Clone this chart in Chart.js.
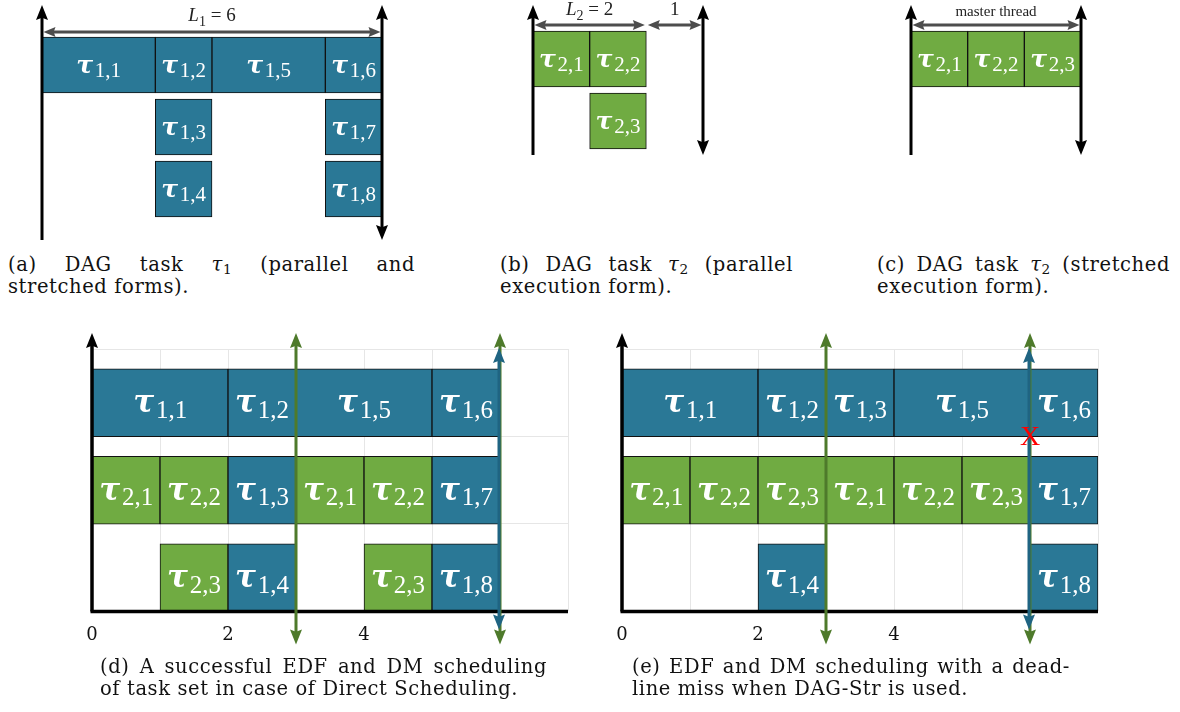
<!DOCTYPE html>
<html>
<head>
<meta charset="utf-8">
<script src="https://cdn.jsdelivr.net/npm/chart.js@4.4.0/dist/chart.umd.min.js"></script>
<style>
  body { margin: 0; width: 1180px; height: 712px; background: #fff; position: relative; overflow: hidden; font-family: "DejaVu Serif", serif; color: #111; }
  canvas { position: absolute; }
  .cap { position: absolute; font-size: 19.5px; letter-spacing: 0.6px; line-height: 22px; white-space: nowrap; }
  .cap .j { text-align: justify; text-align-last: justify; white-space: normal; }
  .cap sub { font-size: 70%; line-height: 0; vertical-align: -0.25em; }
</style>
</head>
<body>
<canvas id="cA" width="420" height="250" style="left:0;top:0"></canvas>
<canvas id="cB" width="250" height="170" style="left:490px;top:0"></canvas>
<canvas id="cC" width="230" height="170" style="left:880px;top:0"></canvas>
<canvas id="cD" width="520" height="340" style="left:70px;top:320px"></canvas>
<canvas id="cE" width="520" height="340" style="left:600px;top:320px"></canvas>

<div class="cap" style="left:8px;top:254px;width:407px">
  <div class="j">(a) DAG task <i>τ</i><sub>1</sub> (parallel and</div>
  <div>stretched forms).</div>
</div>
<div class="cap" style="left:500px;top:254px;width:293px">
  <div class="j">(b) DAG task <i>τ</i><sub>2</sub> (parallel</div>
  <div>execution form).</div>
</div>
<div class="cap" style="left:877px;top:254px;width:293px">
  <div class="j">(c) DAG task <i>τ</i><sub>2</sub> (stretched</div>
  <div>execution form).</div>
</div>
<div class="cap" style="left:100px;top:656px;width:447px">
  <div class="j">(d) A successful EDF and DM scheduling</div>
  <div>of task set in case of Direct Scheduling.</div>
</div>
<div class="cap" style="left:632px;top:656px;width:438px">
  <div class="j">(e) EDF and DM scheduling with a dead-</div>
  <div>line miss when DAG-Str is used.</div>
</div>

<script>
// (a) tau_1 in parallel form: subjob index, start, end, processor row (2 = top)
const aJobs  = ['1,1', '1,2', '1,5', '1,6', '1,3', '1,7', '1,4', '1,8'];
const aStart = [0, 2, 3, 5, 2, 5, 2, 5];
const aEnd   = [2, 3, 5, 6, 3, 6, 3, 6];
const aRow   = [2, 2, 2, 2, 1, 1, 0, 0];

// (b) tau_2 parallel form
const bJobs  = ['2,1', '2,2', '2,3'];
const bStart = [0, 1, 1];
const bEnd   = [1, 2, 2];
const bRow   = [1, 1, 0];

// (c) tau_2 stretched onto the master thread
const cJobs  = ['2,1', '2,2', '2,3'];
const cStart = [0, 1, 2];
const cEnd   = [1, 2, 3];
const cRow   = [1, 1, 1];

// (d) direct scheduling
const dJobs  = ['1,1', '1,2', '1,5', '1,6', '2,1', '2,2', '1,3', '2,1', '2,2', '1,7', '2,3', '1,4', '2,3', '1,8'];
const dStart = [0, 2, 3, 5, 0, 1, 2, 3, 4, 5, 1, 2, 4, 5];
const dEnd   = [2, 3, 5, 6, 1, 2, 3, 4, 5, 6, 2, 3, 5, 6];
const dRow   = [2, 2, 2, 2, 1, 1, 1, 1, 1, 1, 0, 0, 0, 0];

// (e) DAG-Str scheduling
const eJobs  = ['1,1', '1,2', '1,3', '1,5', '1,6', '2,1', '2,2', '2,3', '2,1', '2,2', '2,3', '1,7', '1,4', '1,8'];
const eStart = [0, 2, 3, 4, 6, 0, 1, 2, 3, 4, 5, 6, 2, 6];
const eEnd   = [2, 3, 4, 6, 7, 1, 2, 3, 4, 5, 6, 7, 3, 7];
const eRow   = [2, 2, 2, 2, 2, 1, 1, 1, 1, 1, 1, 1, 0, 0];

const tau1Deadlines = [6];
const tau2Deadlines = [3, 6];
const missTimes = [6];
const xTickLabels = [0, 2, 4];

// dimension arrows above the task drawings
const aDimFrom = [0], aDimTo = [6], aDimText = ['L_1 = 6'];
const bDimFrom = [0, 2], bDimTo = [2, 3], bDimText = ['L_2 = 2', '1'];
const cDimFrom = [0], cDimTo = [3], cDimText = ['master thread'];

const BLUE = '#2a7896', GREEN = '#70ab42';
const BLUE_DL = '#1f6482', GREEN_DL = '#4e7a2b';
const GRID = '#e6e6e6';

function head(ctx, x, y, dx, dy, len, half, color) {
  const bx = x - dx * len, by = y - dy * len;
  ctx.fillStyle = color;
  ctx.beginPath();
  ctx.moveTo(x, y);
  ctx.lineTo(bx - dy * half, by + dx * half);
  ctx.lineTo(x - dx * len * 0.85, y - dy * len * 0.85);
  ctx.lineTo(bx + dy * half, by - dx * half);
  ctx.closePath();
  ctx.fill();
}

// vertical line from y1 (top) to y2 (bottom), heads optional
function vArrow(ctx, x, y1, y2, w, color, up, down, len, half) {
  ctx.strokeStyle = color;
  ctx.lineWidth = w;
  ctx.beginPath();
  ctx.moveTo(x, up ? y1 + len * 0.8 : y1);
  ctx.lineTo(x, down ? y2 - len * 0.8 : y2);
  ctx.stroke();
  if (up) head(ctx, x, y1, 0, -1, len, half, color);
  if (down) head(ctx, x, y2, 0, 1, len, half, color);
}

function hArrow(ctx, x1, x2, y, w, color, len, half) {
  ctx.strokeStyle = color;
  ctx.lineWidth = w;
  ctx.beginPath();
  ctx.moveTo(x1 + len * 0.8, y);
  ctx.lineTo(x2 - len * 0.8, y);
  ctx.stroke();
  head(ctx, x1, y, -1, 0, len, half, color);
  head(ctx, x2, y, 1, 0, len, half, color);
}

// text like 'L_1 = 6': single letter before '_' italic, digit after it a subscript
function mathText(ctx, txt, cx, cy, size) {
  const parts = [];
  const re = /([A-Za-z])_(\d)/g;
  let last = 0, m;
  while ((m = re.exec(txt))) {
    if (m.index > last) parts.push({ t: txt.slice(last, m.index), f: `${size}px "Liberation Serif"`, dy: 0 });
    parts.push({ t: m[1], f: `italic ${size}px "Liberation Serif"`, dy: 0 });
    parts.push({ t: m[2], f: `${Math.round(size * 0.72)}px "Liberation Serif"`, dy: size * 0.22 });
    last = re.lastIndex;
  }
  if (last < txt.length) parts.push({ t: txt.slice(last), f: `${size}px "Liberation Serif"`, dy: 0 });
  let total = 0;
  parts.forEach(p => { ctx.font = p.f; p.w = ctx.measureText(p.t).width; total += p.w; });
  let x = cx - total / 2;
  ctx.fillStyle = '#222';
  ctx.textBaseline = 'alphabetic';
  ctx.textAlign = 'left';
  parts.forEach(p => { ctx.font = p.f; ctx.fillText(p.t, x, cy + size * 0.34 + p.dy); x += p.w; });
}

function tauLabel(ctx, sub, cx, cy, h) {
  const tf = `bold italic ${Math.round(h * 0.45)}px "DejaVu Serif"`;
  const sf = `${Math.round(h * 0.37)}px "Liberation Serif"`;
  ctx.font = tf; const wt = ctx.measureText('τ').width;
  ctx.font = sf; const ws = ctx.measureText(sub).width;
  const gap = h * 0.03;
  let x = cx - (wt + gap + ws) / 2;
  ctx.fillStyle = '#fff';
  ctx.textAlign = 'left';
  ctx.textBaseline = 'alphabetic';
  ctx.font = tf; ctx.fillText('τ', x, cy + h * 0.14);
  ctx.font = sf; ctx.fillText(sub, x + wt + gap, cy + h * 0.22);
}

const extras = {};

const decor = {
  id: 'decor',
  afterDatasetsDraw(chart) {
    const ex = extras[chart.canvas.id];
    const ctx = chart.ctx;
    const { left, right, top, bottom } = chart.chartArea;
    const xs = chart.scales.x;
    ctx.save();
    // subjob labels
    chart.getDatasetMeta(0).data.forEach((bar, i) => {
      const c = bar.getCenterPoint();
      tauLabel(ctx, ex.jobs[i], c.x, c.y, ex.bar);
    });
    if (ex.kind === 'task') {
      ex.axes.forEach(a => vArrow(ctx, xs.getPixelForValue(a.at), top - ex.ext[0], bottom + ex.ext[1], 3, '#000', true, a.down, 15, 6));
      ex.dimFrom.forEach((f, i) => {
        const x1 = xs.getPixelForValue(f), x2 = xs.getPixelForValue(ex.dimTo[i]);
        hArrow(ctx, x1 + 1.5, x2 - 1.5, top - ex.dimGap, 3, '#4d4d4d', 12, 5);
        mathText(ctx, ex.dimText[i], (x1 + x2) / 2, top - ex.labGap, ex.dimText[i].length > 8 ? 15 : 19);
      });
    } else {
      // axes
      ctx.strokeStyle = '#000';
      ctx.lineWidth = 3.5;
      ctx.beginPath();
      ctx.moveTo(left - 1.5, bottom);
      ctx.lineTo(right, bottom);
      ctx.stroke();
      vArrow(ctx, left, top - 16, bottom, 3.5, '#000', true, false, 15, 6);
      tau2Deadlines.forEach(t => vArrow(ctx, xs.getPixelForValue(t), top - 16, bottom + 33, 3, GREEN_DL, true, true, 15, 6));
      tau1Deadlines.forEach(t => vArrow(ctx, xs.getPixelForValue(t) - 1, top - 1, bottom + 18, 3, BLUE_DL, true, true, 15, 6));
      if (ex.miss) {
        const yg = chart.scales.yg;
        ctx.fillStyle = '#ff0000';
        ctx.font = '28px "Liberation Serif"';
        ctx.textAlign = 'center';
        ctx.textBaseline = 'middle';
        missTimes.forEach(t => ctx.fillText('X', xs.getPixelForValue(t), yg.getPixelForValue(2) + 1));
      }
    }
    ctx.restore();
  }
};

function makeChart(id, jobs, start, end, row, g) {
  extras[id] = Object.assign({ jobs }, g);
  const schedule = g.kind === 'schedule';
  const scales = {
    x: schedule ? {
      type: 'linear', min: 0, max: 7,
      border: { display: false },
      grid: { color: GRID, drawTicks: false },
      ticks: {
        stepSize: 1, padding: 13, color: '#111', autoSkip: false, maxRotation: 0,
        font: { family: 'DejaVu Serif', size: 18 },
        callback: v => xTickLabels.includes(v) ? String(v) : ''
      }
    } : { type: 'linear', min: 0, max: g.xMax, display: false },
    y: { type: 'linear', display: false, offset: false, grid: { offset: false }, min: g.yMin, max: g.yMin + g.rows }
  };
  if (schedule) {
    scales.yg = {
      type: 'linear', axis: 'y', position: 'left', min: 0, max: g.rows, offset: false,
      border: { display: false },
      grid: { color: GRID, drawTicks: false, offset: false },
      ticks: { display: false, stepSize: 1 }
    };
  }
  new Chart(document.getElementById(id), {
    type: 'bar',
    data: {
      datasets: [{
        data: start.map((s, i) => ({ x: [s, end[i]], y: row[i] })),
        backgroundColor: jobs.map(j => j[0] === '1' ? BLUE : GREEN),
        borderColor: '#111',
        borderWidth: 1,
        borderSkipped: false,
        barThickness: g.bar
      }]
    },
    options: {
      indexAxis: 'y',
      responsive: false,
      animation: false,
      events: [],
      layout: { padding: g.pad },
      plugins: { legend: { display: false }, tooltip: { enabled: false } },
      scales
    },
    plugins: [decor]
  });
}

makeChart('cA', aJobs, aStart, aEnd, aRow, {
  kind: 'task', xMax: 6, yMin: -0.5, rows: 3, bar: 56,
  pad: { left: 42, right: 38, top: 34, bottom: 30 },
  ext: [29, 20], axes: [{ at: 0, down: false }, { at: 6, down: true }],
  dimFrom: aDimFrom, dimTo: aDimTo, dimText: aDimText, dimGap: 2, labGap: 19
});
makeChart('cB', bJobs, bStart, bEnd, bRow, {
  kind: 'task', xMax: 3, yMin: -0.5, rows: 2, bar: 56,
  pad: { left: 43, right: 37, top: 28, bottom: 18 },
  ext: [23, 3], axes: [{ at: 0, down: false }, { at: 3, down: true }],
  dimFrom: bDimFrom, dimTo: bDimTo, dimText: bDimText, dimGap: 3, labGap: 19
});
makeChart('cC', cJobs, cStart, cEnd, cRow, {
  kind: 'task', xMax: 3, yMin: -0.5, rows: 2, bar: 56,
  pad: { left: 31, right: 29, top: 28, bottom: 18 },
  ext: [23, 3], axes: [{ at: 0, down: false }, { at: 3, down: true }],
  dimFrom: cDimFrom, dimTo: cDimTo, dimText: cDimText, dimGap: 3, labGap: 17
});
makeChart('cD', dJobs, dStart, dEnd, dRow, {
  kind: 'schedule', yMin: -0.385, rows: 3, bar: 68,
  pad: { left: 22, right: 22, top: 29, bottom: 1 }
});
makeChart('cE', eJobs, eStart, eEnd, eRow, {
  kind: 'schedule', yMin: -0.385, rows: 3, bar: 68, miss: true,
  pad: { left: 22, right: 22, top: 29, bottom: 1 }
});
</script>
</body>
</html>
